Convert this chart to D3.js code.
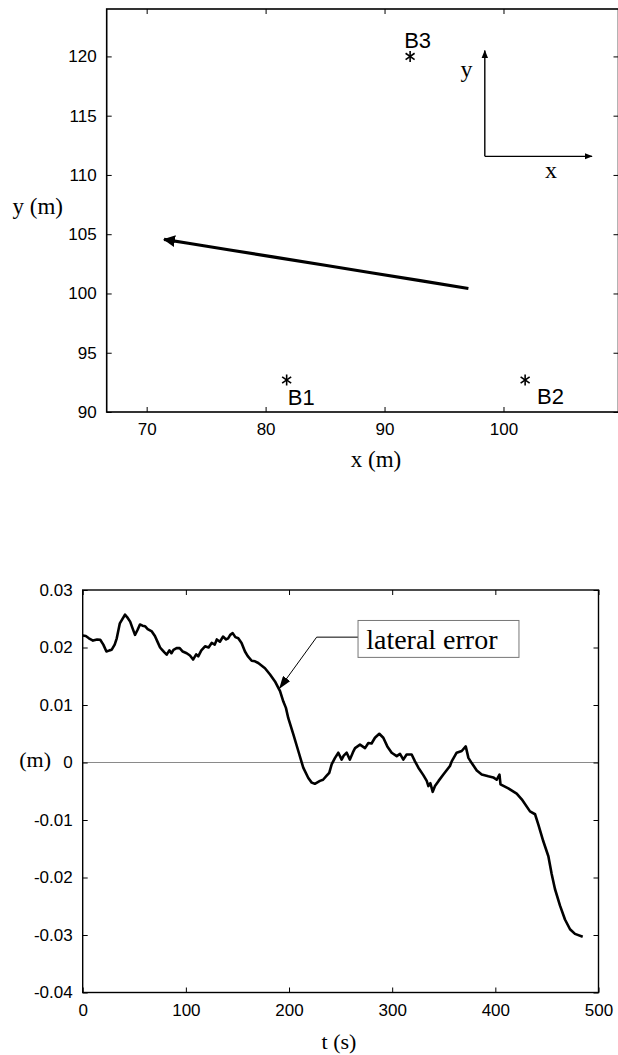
<!DOCTYPE html>
<html>
<head>
<meta charset="utf-8">
<script src="https://cdn.jsdelivr.net/npm/d3@7"></script>
<style>
  body { margin: 0; background: #fff; }
  svg { display: block; }
</style>
</head>
<body>
<script>
// beacons
const beaconNames = ['B1', 'B2', 'B3'];
const beaconX = [81.77, 101.82, 92.15];
const beaconY = [92.7, 92.7, 120.0];

// vehicle trajectory (x, y in m), start -> end
const pathX = [97.05, 93, 89, 85, 81, 77, 73.5, 71.46];
const pathY = [100.42, 101.08, 101.73, 102.38, 103.03, 103.67, 104.24, 104.57];

const xTicksTop = [70, 80, 90, 100];
const yTicksTop = [90, 95, 100, 105, 110, 115, 120];

// lateral error (m) vs time (s)
const tSec = [0, 3, 6, 10, 14, 17, 20, 23, 26, 28, 31, 33, 36, 38, 41, 43, 46, 48, 50.7, 53,
  55.5, 58, 60.4, 63, 67, 70, 73, 75, 77, 79, 81.4, 84, 86, 88, 91, 94, 97, 100.8, 104, 107,
  110, 112, 115, 118.6, 122, 125, 128, 130, 133, 136, 139, 141, 143, 145.4, 148, 150.8, 154,
  157.3, 160, 163.8, 167, 170.2, 176.7, 181.6, 186.4, 191.3, 194.5, 197, 199.3, 204.2, 209,
  213.8, 218.7, 222, 225, 230, 233, 236.5, 239, 241.4, 244.6, 247.8, 251, 253, 255.9, 259,
  262, 264, 268.8, 273.7, 276.9, 280, 283.3, 287.5, 291.4, 295.3, 299.5, 304.4, 307.6, 310.8,
  314, 318.9, 322.1, 325.4, 330.2, 333.5, 335.1, 337, 339.3, 341.5, 345, 349.6, 356, 357.7,
  362.5, 367.4, 371.3, 373.9, 377.1, 382, 386.8, 393.2, 398, 401.3, 404, 405, 412.6, 420.7,
  425.6, 433.6, 438.5, 441.7, 446.5, 451.4, 454.6, 457.8, 462.7, 467.5, 472.4, 477.2, 484.7];
const latErr = [0.0221, 0.0220, 0.0216, 0.0212, 0.0214, 0.02135, 0.0205, 0.0193, 0.0195, 0.0196,
  0.0205, 0.0216, 0.0242, 0.0248, 0.0257, 0.0253, 0.0245, 0.0235, 0.0222, 0.0230,
  0.0240, 0.0238, 0.0237, 0.0232, 0.0228, 0.0220, 0.0208, 0.0200, 0.0196, 0.0192, 0.01875,
  0.0195, 0.0190, 0.0196, 0.0199, 0.0199, 0.0193, 0.0190, 0.0186, 0.0179,
  0.0188, 0.01845, 0.0195, 0.0202, 0.0200, 0.0208, 0.0205, 0.0214, 0.0210, 0.0219, 0.0214,
  0.0216, 0.0222, 0.0225, 0.0218, 0.0216, 0.0208,
  0.0193, 0.0185, 0.0177, 0.0176, 0.0173, 0.0164, 0.0153, 0.0141, 0.0124, 0.0106, 0.0095,
  0.0077, 0.0049, 0.0020,
  -0.0009, -0.0027, -0.0035, -0.0037, -0.0032, -0.0030, -0.0023, -0.0018, -0.0003, 0.0008,
  0.0017, 0.0005, 0.0012, 0.0017, 0.0005,
  0.0018, 0.0025, 0.0031, 0.0025, 0.0034, 0.0033, 0.0043, 0.0050, 0.0043, 0.0028, 0.0017,
  0.0011, 0.0015, 0.0005,
  0.0014, 0.0014, 0.0002, -0.0009, -0.0022, -0.0032, -0.0041, -0.0036, -0.0051, -0.0041,
  -0.0032, -0.0021, -0.0006, 0.0002,
  0.0017, 0.0020, 0.0028, 0.0008, -0.0001, -0.0014, -0.0021, -0.0024, -0.0026, -0.0030,
  -0.0021, -0.0038, -0.0045, -0.0054,
  -0.0064, -0.0085, -0.0090, -0.0108, -0.0137, -0.0163, -0.0194, -0.0220, -0.0249, -0.0273,
  -0.0290, -0.0298, -0.0303];

const tTicks = [0, 100, 200, 300, 400, 500];
const errTicks = [-0.04, -0.03, -0.02, -0.01, 0, 0.01, 0.02, 0.03];

const SANS = "'Liberation Sans', Arial, sans-serif";
const SERIF = "'Liberation Serif', 'Times New Roman', serif";

const svg = d3.select('body').append('svg')
  .attr('width', 618)
  .attr('height', 1055);

const defs = svg.append('defs');
defs.append('marker')
  .attr('id', 'headBig')
  .attr('viewBox', '0 0 12 12')
  .attr('refX', 11).attr('refY', 6)
  .attr('markerWidth', 12).attr('markerHeight', 12)
  .attr('markerUnits', 'userSpaceOnUse')
  .attr('orient', 'auto')
  .append('path').attr('d', 'M0,0L12,6L0,12Z').attr('fill', '#000');
defs.append('marker')
  .attr('id', 'headSmall')
  .attr('viewBox', '0 0 8 8')
  .attr('refX', 7.5).attr('refY', 4)
  .attr('markerWidth', 8).attr('markerHeight', 8)
  .attr('markerUnits', 'userSpaceOnUse')
  .attr('orient', 'auto')
  .append('path').attr('d', 'M0,0.8L8,4L0,7.2Z').attr('fill', '#000');
defs.append('marker')
  .attr('id', 'headNote')
  .attr('viewBox', '0 0 13 9')
  .attr('refX', 12.5).attr('refY', 4.5)
  .attr('markerWidth', 13).attr('markerHeight', 9)
  .attr('markerUnits', 'userSpaceOnUse')
  .attr('orient', 'auto')
  .append('path').attr('d', 'M0,0L13,4.5L0,9Z').attr('fill', '#000');

// draws a boxed MATLAB-style frame with inward ticks on all sides
function frame(g, x, y, xt, yt, xfmt, yfmt, lw) {
  const [x0, x1] = x.range();
  const [y0, y1] = y.range();

  const bottom = g.append('g').attr('transform', 'translate(0,' + y0 + ')')
    .call(d3.axisBottom(x).tickValues(xt).tickSizeInner(-5).tickSizeOuter(0)
      .tickPadding(11).tickFormat(xfmt));
  const left = g.append('g').attr('transform', 'translate(' + x0 + ',0)')
    .call(d3.axisLeft(y).tickValues(yt).tickSizeInner(-5).tickSizeOuter(0)
      .tickPadding(10).tickFormat(yfmt));
  g.append('g').attr('transform', 'translate(0,' + y1 + ')')
    .call(d3.axisTop(x).tickValues(xt).tickSizeInner(-5).tickSizeOuter(0).tickFormat(''));
  g.append('g').attr('transform', 'translate(' + x1 + ',0)')
    .call(d3.axisRight(y).tickValues(yt).tickSizeInner(-5).tickSizeOuter(0).tickFormat(''));

  g.selectAll('.domain').remove();
  g.selectAll('.tick line').attr('stroke', '#000').attr('stroke-width', 1);
  [bottom, left].forEach(a => a.selectAll('text')
    .attr('font-family', SANS).attr('font-size', 17).attr('fill', '#000'));

  g.append('rect')
    .attr('x', x0).attr('y', y1)
    .attr('width', x1 - x0).attr('height', y0 - y1)
    .attr('fill', 'none')
    .attr('stroke', '#000')
    .attr('stroke-width', lw);
}

/**
 * Top: beacon layout and trajectory
 */
(function () {
  const x = d3.scaleLinear().domain([66.64, 109.67]).range([106.7, 618.5]);
  const y = d3.scaleLinear().domain([90, 124]).range([412, 9]);
  const g = svg.append('g');

  frame(g, x, y, xTicksTop, yTicksTop, d3.format('d'), d3.format('d'), 1.6);

  const line = d3.line().x(d => x(d[0])).y(d => y(d[1]));
  g.append('path')
    .datum(d3.zip(pathX, pathY))
    .attr('d', line)
    .attr('fill', 'none')
    .attr('stroke', '#000')
    .attr('stroke-width', 3.2)
    .attr('stroke-linejoin', 'round')
    .attr('marker-end', 'url(#headBig)');

  // beacons as asterisks
  const beacons = beaconNames.map((n, i) => ({ name: n, x: beaconX[i], y: beaconY[i] }));
  const star = g.selectAll('.beacon')
    .data(beacons)
    .enter().append('g')
    .attr('class', 'beacon')
    .attr('transform', d => 'translate(' + x(d.x) + ',' + y(d.y) + ')');
  [90, 35, 145].forEach(a => {
    const r = 5.5, c = Math.cos(a * Math.PI / 180) * r, s = Math.sin(a * Math.PI / 180) * r;
    star.append('line')
      .attr('x1', -c).attr('y1', -s).attr('x2', c).attr('y2', s)
      .attr('stroke', '#000').attr('stroke-width', 1.6);
  });

  // label offsets in data units (m)
  const labelDx = { B1: 0.1, B2: 1.0, B3: -0.5 };
  const labelDy = { B1: -2.1, B2: -2.03, B3: 0.75 };
  g.selectAll('.blabel')
    .data(beacons)
    .enter().append('text')
    .attr('class', 'blabel')
    .attr('x', d => x(d.x + labelDx[d.name]))
    .attr('y', d => y(d.y + labelDy[d.name]))
    .attr('font-family', SANS)
    .attr('font-size', 22)
    .text(d => d.name);

  // reference frame arrows
  const ox = 98.43, oy = 111.57;
  g.append('line')
    .attr('x1', x(ox)).attr('y1', y(oy)).attr('x2', x(ox)).attr('y2', y(120.5))
    .attr('stroke', '#000').attr('stroke-width', 1.4)
    .attr('marker-end', 'url(#headSmall)');
  g.append('line')
    .attr('x1', x(ox)).attr('y1', y(oy)).attr('x2', x(107.45)).attr('y2', y(oy))
    .attr('stroke', '#000').attr('stroke-width', 1.4)
    .attr('marker-end', 'url(#headSmall)');
  g.append('text')
    .attr('x', x(96.9)).attr('y', y(118.3))
    .attr('text-anchor', 'middle')
    .attr('font-family', SERIF).attr('font-size', 24)
    .text('y');
  g.append('text')
    .attr('x', x(104.0)).attr('y', y(109.7))
    .attr('text-anchor', 'middle')
    .attr('font-family', SERIF).attr('font-size', 24)
    .text('x');

  svg.append('text')
    .attr('x', 63).attr('y', 214)
    .attr('text-anchor', 'end')
    .attr('font-family', SERIF).attr('font-size', 23)
    .text('y (m)');
  svg.append('text')
    .attr('x', 376).attr('y', 467)
    .attr('text-anchor', 'middle')
    .attr('font-family', SERIF).attr('font-size', 23)
    .text('x (m)');
})();

/**
 * Bottom: lateral error
 */
(function () {
  const x = d3.scaleLinear().domain([0, 500]).range([82.7, 598.5]);
  const y = d3.scaleLinear().domain([-0.04, 0.03]).range([992.5, 590]);
  const g = svg.append('g');

  // zero line
  g.append('line')
    .attr('x1', x(0)).attr('x2', x(500))
    .attr('y1', y(0)).attr('y2', y(0))
    .attr('stroke', '#8a8a8a').attr('stroke-width', 1.2);

  frame(g, x, y, tTicks, errTicks, d3.format('d'), d => d === 0 ? '0' : d.toFixed(2), 1.4);

  const line = d3.line().x(d => x(d[0])).y(d => y(d[1]));
  g.append('path')
    .datum(d3.zip(tSec, latErr))
    .attr('d', line)
    .attr('fill', 'none')
    .attr('stroke', '#000')
    .attr('stroke-width', 2.6)
    .attr('stroke-linejoin', 'round');

  // annotation, positioned in data units
  const box = { t0: 266.9, t1: 422.9, v0: 0.0247, v1: 0.01828 };
  g.append('polyline')
    .attr('points', [[x(box.t0), y(0.0218)], [x(226.8), y(0.0218)], [x(190.6), y(0.01285)]]
      .map(p => p.join(',')).join(' '))
    .attr('fill', 'none')
    .attr('stroke', '#000')
    .attr('stroke-width', 1)
    .attr('marker-end', 'url(#headNote)');
  g.append('rect')
    .attr('x', x(box.t0)).attr('y', y(box.v0))
    .attr('width', x(box.t1) - x(box.t0))
    .attr('height', y(box.v1) - y(box.v0))
    .attr('fill', '#fff')
    .attr('stroke', '#777')
    .attr('stroke-width', 1);
  g.append('text')
    .attr('x', x(274.8)).attr('y', y(0.0198))
    .attr('font-family', SERIF).attr('font-size', 28)
    .text('lateral error');

  svg.append('text')
    .attr('x', 51).attr('y', 767)
    .attr('text-anchor', 'end')
    .attr('font-family', SERIF).attr('font-size', 22)
    .text('(m)');
  svg.append('text')
    .attr('x', 339).attr('y', 1049)
    .attr('text-anchor', 'middle')
    .attr('font-family', SERIF).attr('font-size', 22)
    .text('t (s)');
})();
</script>
</body>
</html>
